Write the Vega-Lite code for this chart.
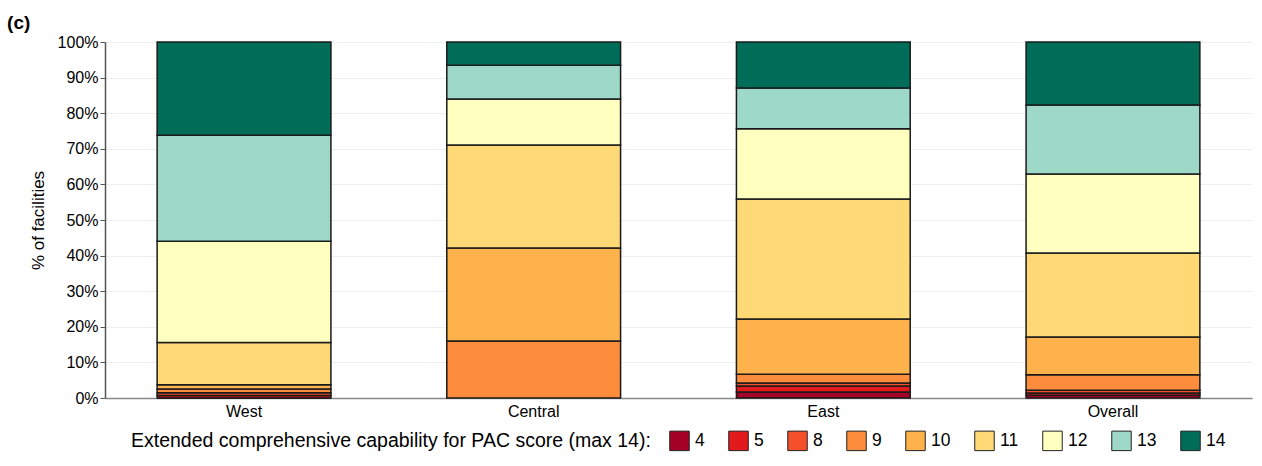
{
  "$schema": "https://vega.github.io/schema/vega-lite/v6.json",
  "width": 1147,
  "height": 356,
  "autosize": "none",
  "padding": {"left": 105, "top": 42, "right": 10, "bottom": 68},
  "background": "white",
  "title": {"text": "(c)", "anchor": "start", "frame": "bounds", "fontSize": 19, "fontWeight": "bold", "font": "Liberation Sans", "dx": -22, "offset": 1, "color": "black"},
  "data": {"values": [
    {"region": "West", "score": 4, "pct": 0.0},
    {"region": "West", "score": 5, "pct": 0.7},
    {"region": "West", "score": 8, "pct": 0.8},
    {"region": "West", "score": 9, "pct": 1.0},
    {"region": "West", "score": 10, "pct": 1.2},
    {"region": "West", "score": 11, "pct": 11.9},
    {"region": "West", "score": 12, "pct": 28.4},
    {"region": "West", "score": 13, "pct": 29.8},
    {"region": "West", "score": 14, "pct": 26.2},
    {"region": "Central", "score": 9, "pct": 16.0},
    {"region": "Central", "score": 10, "pct": 26.1},
    {"region": "Central", "score": 11, "pct": 29.0},
    {"region": "Central", "score": 12, "pct": 12.9},
    {"region": "Central", "score": 13, "pct": 9.5},
    {"region": "Central", "score": 14, "pct": 6.5},
    {"region": "East", "score": 4, "pct": 1.7},
    {"region": "East", "score": 5, "pct": 1.7},
    {"region": "East", "score": 8, "pct": 0.8},
    {"region": "East", "score": 9, "pct": 2.5},
    {"region": "East", "score": 10, "pct": 15.5},
    {"region": "East", "score": 11, "pct": 33.7},
    {"region": "East", "score": 12, "pct": 19.7},
    {"region": "East", "score": 13, "pct": 11.5},
    {"region": "East", "score": 14, "pct": 12.9},
    {"region": "Overall", "score": 4, "pct": 0.8},
    {"region": "Overall", "score": 5, "pct": 0.6},
    {"region": "Overall", "score": 8, "pct": 0.8},
    {"region": "Overall", "score": 9, "pct": 4.3},
    {"region": "Overall", "score": 10, "pct": 10.6},
    {"region": "Overall", "score": 11, "pct": 23.6},
    {"region": "Overall", "score": 12, "pct": 22.2},
    {"region": "Overall", "score": 13, "pct": 19.4},
    {"region": "Overall", "score": 14, "pct": 17.7}
  ]},
  "mark": {"type": "bar", "stroke": "#1a1a1a", "strokeWidth": 1.5},
  "encoding": {
    "x": {"field": "region", "type": "nominal", "sort": ["West", "Central", "East", "Overall"],
      "scale": {"paddingInner": 0.4, "paddingOuter": 0.18},
      "axis": {"title": null, "labelAngle": 0, "labelFontSize": 16, "labelFont": "Liberation Sans", "labelColor": "black", "ticks": false, "labelPadding": 5, "domainColor": "#888", "domainWidth": 1.5}},
    "y": {"field": "pct", "type": "quantitative", "stack": "zero",
      "scale": {"domain": [0, 100], "nice": false},
      "axis": {"title": "% of facilities", "titleFontSize": 17, "titleFont": "Liberation Sans", "titleFontWeight": "normal", "titleColor": "black", "titlePadding": 10,
        "values": [0,10,20,30,40,50,60,70,80,90,100], "labelExpr": "datum.value + '%'",
        "labelFontSize": 16, "labelFont": "Liberation Sans", "labelColor": "black", "tickColor": "#555", "tickSize": 5, "domainColor": "#555", "domainWidth": 1.5,
        "grid": true, "gridColor": "#eeeeee", "gridWidth": 1}},
    "color": {"field": "score", "type": "ordinal",
      "scale": {"domain": [4, 5, 8, 9, 10, 11, 12, 13, 14], "range": ["#a50026", "#e31a1c", "#f4502a", "#fd8d3c", "#feb24c", "#fed976", "#ffffbf", "#9ed9c8", "#006d59"]},
      "legend": {"orient": "bottom", "direction": "horizontal", "title": "Extended comprehensive capability for PAC score (max 14):", "titleLimit": 800, "titleOrient": "left", "titleFontSize": 19.5, "titleFontWeight": "normal", "titleFont": "Liberation Sans", "titleColor": "black", "titlePadding": 18,
        "labelFontSize": 17.5, "labelFont": "Liberation Sans", "labelColor": "black", "symbolType": "square", "symbolSize": 380, "symbolStrokeColor": "#222", "symbolStrokeWidth": 1, "symbolOpacity": 1, "columnPadding": 21, "labelOffset": 5, "offset": 11}},
    "order": {"field": "score", "type": "quantitative", "sort": "ascending"}
  },
  "config": {
    "view": {"stroke": null},
    "legend": {"layout": {"bottom": {"anchor": "middle"}}}
  }
}
